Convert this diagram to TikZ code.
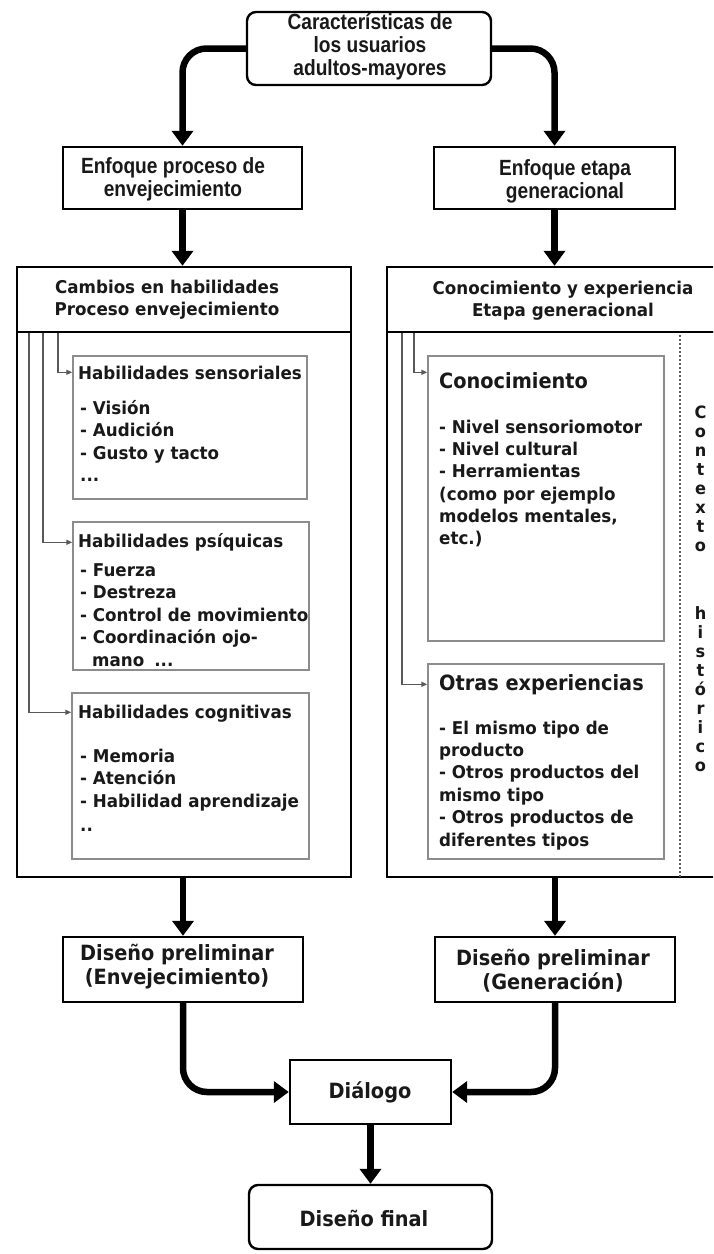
\documentclass[tikz,border=0pt]{standalone}
\usepackage{fontspec}
\usetikzlibrary{arrows.meta,calc}
\newfontfamily\narfont{Liberation Sans}[FakeStretch=0.87]
\newfontfamily\dvfont{DejaVu Sans}[FakeStretch=0.95]
\newfontfamily\heavyfont{DejaVu Sans}[FakeStretch=0.92]

\begin{document}
\begin{tikzpicture}[x=1pt,y=-1pt,
  boxline/.style={draw=black, line width=2.4pt, fill=white, inner sep=0pt},
  roundbox/.style={boxline, rounded corners=9pt},
  subbox/.style={draw=black!45, line width=1.4pt, inner sep=0pt},
  bigarrow/.style={line width=6.5pt, -{Triangle[length=15pt,width=21pt]}},
  thinarrow/.style={draw=black!65, line width=1.4pt, -{Triangle[length=6pt,width=5pt]}},
  ctxline/.style={draw=black!65, line width=1.8pt, dash pattern=on 2pt off 2pt},
  nartext/.style={font=\narfont\bfseries\fontsize{22}{23}\selectfont, align=center, text=black!90, inner sep=0pt},
  heavytext/.style={font=\heavyfont\bfseries\fontsize{21}{24}\selectfont, align=center, text=black!90, inner sep=0pt},
  hdrtext/.style={font=\dvfont\bfseries\fontsize{17.6}{22}\selectfont, align=center, text=black!90, inner sep=0pt},
  itm/.style={font=\dvfont\bfseries\fontsize{17.6}{22}\selectfont, anchor=base west, text=black!90, inner sep=0pt},
  heavyttl/.style={font=\heavyfont\bfseries\fontsize{21}{23}\selectfont, anchor=base west, text=black!90, inner sep=0pt},
  ctx/.style={font=\dvfont\bfseries\fontsize{17}{17}\selectfont, anchor=base, text=black!90, inner sep=0pt}
]
\fill[white] (0,0) rectangle (713,1254);
\useasboundingbox (0,0) rectangle (713,1254);
\clip (0,0) rectangle (713,1254);

% ---------- boxes ----------
\node[roundbox, minimum width=244pt, minimum height=73pt] (top) at (369,48.5) {};
\node[boxline, minimum width=239pt, minimum height=62pt] (enf1) at (182.5,178) {};
\node[boxline, minimum width=241pt, minimum height=62pt] (enf2) at (554.5,178) {};

\node[boxline, minimum width=334pt, minimum height=545pt] (bodyL) at (184,604.5) {};
\node[boxline, minimum width=334pt, minimum height=65pt] (hdrL) at (184,299.5) {};
\node[boxline, minimum width=333pt, minimum height=545pt] (bodyR) at (553.5,604.5) {};
\node[boxline, minimum width=333pt, minimum height=65pt] (hdrR) at (553.5,299.5) {};

\node[subbox, minimum width=234pt, minimum height=143pt] (sens) at (190,427.5) {};
\node[subbox, minimum width=236pt, minimum height=148pt] (psi) at (191,596) {};
\node[subbox, minimum width=237pt, minimum height=166pt] (cog) at (190.5,776) {};
\node[subbox, minimum width=236pt, minimum height=285pt] (conoc) at (546,498.5) {};
\node[subbox, minimum width=236pt, minimum height=195pt] (otras) at (546,761.5) {};

\node[boxline, minimum width=240pt, minimum height=65pt] (dpl) at (183,969.5) {};
\node[boxline, minimum width=240pt, minimum height=65pt] (dpr) at (555,969.5) {};
\node[boxline, minimum width=161pt, minimum height=64pt] (dial) at (370.5,1092) {};
\node[roundbox, minimum width=243pt, minimum height=64pt] (final) at (370.5,1217) {};

% ---------- thick flow arrows ----------
\draw[bigarrow, rounded corners=24pt] (top.west) -| (enf1.north);
\draw[bigarrow, rounded corners=24pt] (top.east) -| (enf2.north);
\draw[bigarrow] (enf1.south) -- (enf1.south |- hdrL.north);
\draw[bigarrow] (enf2.south) -- (enf2.south |- hdrR.north);
\draw[bigarrow] (dpl.north |- bodyL.south) -- (dpl.north);
\draw[bigarrow] (dpr.north |- bodyR.south) -- (dpr.north);
\draw[bigarrow, rounded corners=24pt] (dpl.south) |- (dial.west);
\draw[bigarrow, rounded corners=24pt] (dpr.south) |- (dial.east);
\draw[bigarrow] (dial.south) -- (final.north);

% ---------- thin branch connectors ----------
\draw[thinarrow] ($(hdrL.south west)+(42,0)$) |- ($(sens.north west)+(0,17)$);
\draw[thinarrow] ($(hdrL.south west)+(27,0)$) |- ($(psi.north west)+(0,21)$);
\draw[thinarrow] ($(hdrL.south west)+(13,0)$) |- ($(cog.north west)+(0,20)$);
\draw[thinarrow] ($(hdrR.south west)+(28,0)$) |- ($(conoc.north west)+(0,17)$);
\draw[thinarrow] ($(hdrR.south west)+(16,0)$) |- ($(otras.north west)+(0,21)$);

% dotted separator for the historical context
\draw[ctxline] ($(hdrR.south west)+(294,2)$) -- ($(bodyR.south west)+(294,0)$);

% ---------- texts ----------
\node[nartext] (topT) at (370,47) {Características de\\los usuarios\\adultos-mayores};
\node[nartext] (enf1T) at (173,179) {Enfoque proceso de\\envejecimiento};
\node[nartext] (enf2T) at (565,181) {Enfoque etapa\\generacional};

\node[hdrtext] (hdrLT) at (167,300) {Cambios en habilidades\\Proceso envejecimiento};
\node[hdrtext] (hdrRT) at (563,301) {Conocimiento y experiencia\\Etapa generacional};

\node[itm] (sens0) at (78,379) {Habilidades sensoriales};
\node[itm] (sens1) at (80,414) {- Visión};
\node[itm] (sens2) at (80,436.5) {- Audición};
\node[itm] (sens3) at (80,459) {- Gusto y tacto};
\node[itm] (sens4) at (80,481) {...};

\node[itm] (psi0) at (78,547) {Habilidades psíquicas};
\node[itm] (psi1) at (80,576) {- Fuerza};
\node[itm] (psi2) at (80,598.5) {- Destreza};
\node[itm] (psi3) at (80,621) {- Control de movimiento};
\node[itm] (psi4) at (80,643.5) {- Coordinación ojo-};
\node[itm] (psi5) at (80,666) {\hspace*{12pt}mano\hspace{10pt}...};

\node[itm] (cog0) at (78,718) {Habilidades cognitivas};
\node[itm] (cog1) at (80,762) {- Memoria};
\node[itm] (cog2) at (80,784.5) {- Atención};
\node[itm] (cog3) at (80,807) {- Habilidad aprendizaje};
\node[itm] (cog4) at (80,831) {..};

\node[heavyttl] (conoc0) at (439,388) {Conocimiento};
\node[itm] (conoc1) at (439,433) {- Nivel sensoriomotor};
\node[itm] (conoc2) at (439,455.3) {- Nivel cultural};
\node[itm] (conoc3) at (439,477.6) {- Herramientas};
\node[itm] (conoc4) at (439,500) {(como por ejemplo};
\node[itm] (conoc5) at (439,522.2) {modelos mentales,};
\node[itm] (conoc6) at (439,544.5) {etc.)};

\node[heavyttl] (otras0) at (439,690) {Otras experiencias};
\node[itm] (otras1) at (439,734) {- El mismo tipo de};
\node[itm] (otras2) at (439,756.4) {producto};
\node[itm] (otras3) at (439,778.8) {- Otros productos del};
\node[itm] (otras4) at (439,801.2) {mismo tipo};
\node[itm] (otras5) at (439,823.6) {- Otros productos de};
\node[itm] (otras6) at (439,846) {diferentes tipos};

\foreach \c [count=\i from 0] in {C,o,n,t,e,x,t,o}
  \node[ctx] (ctxa\i) at (700.5,418+19*\i) {\c};
\foreach \c [count=\i from 0] in {h,i,s,t,ó,r,i,c,o}
  \node[ctx] (ctxb\i) at (700.5,619+19*\i) {\c};

\node[heavytext] (dplT) at (177,967) {Diseño preliminar\\(Envejecimiento)};
\node[heavytext] (dprT) at (553,971) {Diseño preliminar\\(Generación)};
\node[heavytext] (dialT) at (370,1092) {Diálogo};
\node[heavytext] (finalT) at (364,1218) {Diseño final};
\end{tikzpicture}
\end{document}
